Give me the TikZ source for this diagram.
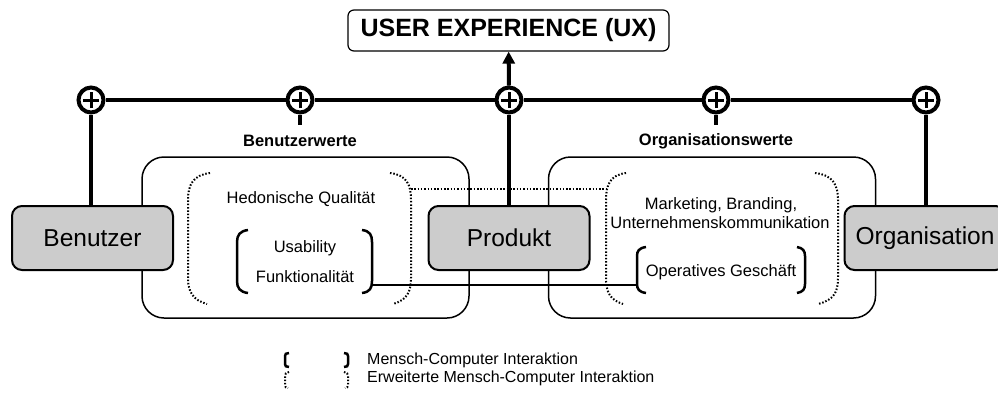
\documentclass[tikz,border=0pt]{standalone}
\usepackage{fontspec}
\setmainfont{Liberation Sans}
\usetikzlibrary{arrows.meta}
\definecolor{boxgray}{HTML}{CCCCCC}
\tikzset{
 thickln/.style={line width=4pt},
 plusnode/.style={circle, draw, line width=4pt, fill=white, minimum size=25pt, inner sep=0pt,
   path picture={\draw[line width=3pt]
     ([xshift=-8pt]path picture bounding box.center) -- ([xshift=8pt]path picture bounding box.center)
     ([yshift=-8pt]path picture bounding box.center) -- ([yshift=8pt]path picture bounding box.center);}},
 actor/.style={draw, line width=2pt, fill=boxgray, rounded corners=10pt, minimum width=161pt,
   minimum height=64pt, inner sep=0pt, font=\fontsize{24.5}{28}\selectfont},
 valbox/.style={draw, line width=1.5pt, rounded corners=22pt, minimum width=327pt, minimum height=161pt},
 uxbox/.style={draw, line width=1.2pt, rounded corners=6pt, minimum width=321pt, minimum height=41pt,
   inner sep=0pt, font=\bfseries\fontsize{25}{30}\selectfont},
 head/.style={font=\bfseries\fontsize{16.5}{20}\selectfont, inner sep=0pt},
 txt/.style={font=\fontsize{16.5}{20}\selectfont, inner sep=0pt},
 legtxt/.style={font=\fontsize{16}{19}\selectfont, inner sep=0pt, anchor=west},
 solidbr/.style={line width=2.5pt},
 dotbr/.style={line width=2pt, dash pattern=on 1.5pt off 1.8pt},
}
\begin{document}
\begin{tikzpicture}[x=1pt,y=-1pt]
\useasboundingbox (0,0) rectangle (998,392);
% value boxes
\node[valbox] (bw) at (305.5,237.5) {};
\node[valbox] (ow) at (712,237.5) {};
\node[head] (bwl) at (300,141) {Benutzerwerte};
\node[head] (owl) at (716,141) {Organisationswerte};
% top box
\node[uxbox] (ux) at (508.5,30.5) {USER EXPERIENCE (UX)};
% actors
\node[actor] (benutzer) at (92.5,238) {Benutzer};
\node[actor] (produkt) at (509,238) {Produkt};
\node[actor] (organisation) at (925,238) {Organisation};
% plus nodes
\node[plusnode] (c1) at (91,100) {};
\node[plusnode] (c2) at (300,100) {};
\node[plusnode] (c3) at (509,100) {};
\node[plusnode] (c4) at (716,100) {};
\node[plusnode] (c5) at (926,100) {};
\coordinate (s2) at (300,125);
\coordinate (s4) at (716,125);
% thick connectors
\draw[thickln] (c1) -- (c2);
\draw[thickln] (c2) -- (c3);
\draw[thickln] (c3) -- (c4);
\draw[thickln] (c4) -- (c5);
\draw[thickln] (c1) -- (c1 |- benutzer.north);
\draw[thickln] (c5) -- (c5 |- organisation.north);
\draw[thickln] (c3) -- (produkt);
\draw[thickln] (c2) -- (s2);
\draw[thickln] (c4) -- (s4);
\draw[thickln, -{Triangle[length=12pt,width=12pt]}] (c3) -- (ux);
% texts inside value boxes
\node[txt] (hed) at (301,199) {Hedonische Qualität};
\node[txt] (usa) at (305,248) {Usability};
\node[txt] (fun) at (305,277) {Funktionalität};
\node[txt] (mkt) at (721,205) {Marketing, Branding,};
\node[txt] (unt) at (720,223) {Unternehmenskommunikation};
\node[txt] (ope) at (721,272) {Operatives Geschäft};
% dotted brackets (Benutzerwerte)
\draw[dotbr] (210,173) .. controls (193,175) and (188,185) .. (188,200) -- (188,278)
  .. controls (188,292) and (193,300) .. (207,304);
\draw[dotbr] (390,173) .. controls (407,175) and (411,185) .. (411,200) -- (411,278)
  .. controls (411,292) and (407,300) .. (393,304);
% dotted brackets (Organisationswerte)
\draw[dotbr] (626,173) .. controls (610,175) and (606,185) .. (606,200) -- (606,278)
  .. controls (606,292) and (610,300) .. (623,304);
\draw[dotbr] (815,173) .. controls (833,175) and (838,185) .. (838,200) -- (838,278)
  .. controls (838,292) and (834,300) .. (818,304);
% solid brackets
\draw[solidbr] (248,230) .. controls (240,231) and (237,235) .. (237,242) -- (237,281)
  .. controls (237,288) and (240,292) .. (248,293);
\draw[solidbr] (362,230) .. controls (370,231) and (372,235) .. (372,242) -- (372,281)
  .. controls (372,288) and (370,292) .. (362,293);
\draw[solidbr] (646,247) .. controls (639,248) and (637,251) .. (637,256) -- (637,284)
  .. controls (637,289) and (639,292) .. (646,293);
\draw[solidbr] (797,247) .. controls (803,248) and (805,251) .. (805,256) -- (805,284)
  .. controls (805,289) and (803,292) .. (797,293);
% bracket connectors
\coordinate (bdr) at (411,189);
\coordinate (odl) at (606,189);
\coordinate (bsr) at (372,285);
\coordinate (osl) at (637,285);
\draw[dotbr] (bdr) -- (odl);
\draw[line width=2pt] (bsr) -- (osl);
% legend
\draw[solidbr] (289,353) .. controls (286,353) and (285,354) .. (285,356) -- (285,364)
  .. controls (285,366) and (286,367) .. (289,367);
\draw[solidbr] (344,353) .. controls (347,353) and (348,354) .. (348,356) -- (348,364)
  .. controls (348,366) and (347,367) .. (344,367);
\draw[dotbr] (289,372) .. controls (286,372) and (285,374) .. (285,376) -- (285,385)
  .. controls (285,387) and (286,388) .. (288,388);
\draw[dotbr] (344,372) .. controls (347,372) and (348,374) .. (348,376) -- (348,385)
  .. controls (348,387) and (347,388) .. (345,388);
\node[legtxt] (lg1) at (367,360) {Mensch-Computer Interaktion};
\node[legtxt] (lg2) at (367,378) {Erweiterte Mensch-Computer Interaktion};
\end{tikzpicture}
\end{document}
